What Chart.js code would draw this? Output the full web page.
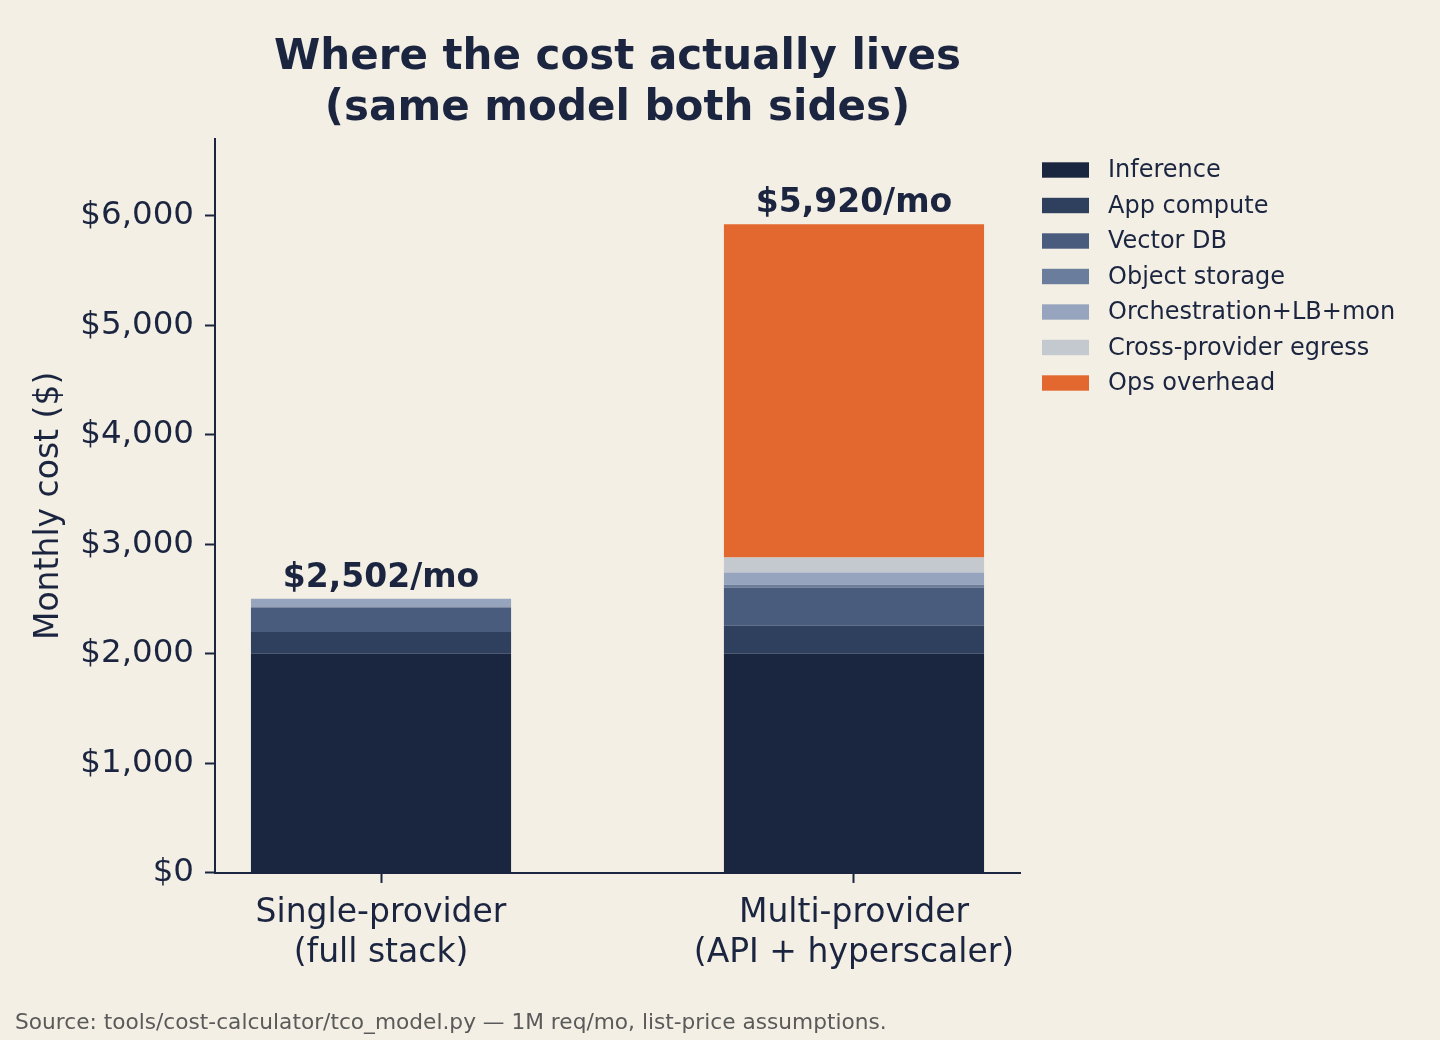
<!DOCTYPE html>
<html>
<head>
<meta charset="utf-8">
<script src="https://cdn.jsdelivr.net/npm/chart.js@4"></script>
<style>
  html, body { margin: 0; padding: 0; background: #f3efe4; }
  #wrap { width: 1440px; height: 1040px; }
</style>
</head>
<body>
<div id="wrap"><canvas id="c" width="1440" height="1040"></canvas></div>
<script>
// ---- data ----
const categories = [["Single-provider", "(full stack)"], ["Multi-provider", "(API + hyperscaler)"]];
const seriesNames = ["Inference", "App compute", "Vector DB", "Object storage", "Orchestration+LB+mon", "Cross-provider egress", "Ops overhead"];
const inference = [2000, 2000];
const appCompute = [200, 255];
const vectorDB = [220, 350];
const objectStorage = [12, 25];
const orchestration = [70, 112];
const egress = [0, 137];
const opsOverhead = [0, 3041];
const yTicks = [0, 1000, 2000, 3000, 4000, 5000, 6000];
const seriesColors = ["#1a2540", "#2f3f5e", "#4a5c7d", "#6b7d9d", "#97a4bd", "#c4c9d0", "#e2682f"];

const seriesValues = [inference, appCompute, vectorDB, objectStorage, orchestration, egress, opsOverhead];
const NAVY = "#1b2540";
const FONT = "'DejaVu Sans', sans-serif";

const datasets = seriesNames.map((name, i) => ({
  label: name,
  data: seriesValues[i].map((v, j) => ({ x: j, y: v })),
  backgroundColor: seriesColors[i],
  borderWidth: 0,
  barPercentage: 0.55,
  categoryPercentage: 1.0
}));

const totalsPlugin = {
  id: 'totals',
  afterDatasetsDraw(chart) {
    const ctx = chart.ctx;
    const xs = chart.scales.x, ys = chart.scales.y;
    ctx.save();
    ctx.font = "bold 33px " + FONT;
    ctx.fillStyle = NAVY;
    ctx.textAlign = 'center';
    ctx.textBaseline = 'alphabetic';
    categories.forEach((c, j) => {
      const total = seriesValues.reduce((s, arr) => s + arr[j], 0);
      const x = xs.getPixelForValue(j);
      const y = ys.getPixelForValue(total);
      ctx.fillText('$' + total.toLocaleString('en-US') + '/mo', x, y - 12);
    });
    ctx.restore();
  }
};

const legendPlugin = {
  id: 'sideLegend',
  afterDraw(chart) {
    const ctx = chart.ctx;
    const area = chart.chartArea;
    const x0 = area.right + 22;
    const y0 = 170;
    const step = 35.5;
    ctx.save();
    ctx.font = "24px " + FONT;
    ctx.textAlign = 'left';
    ctx.textBaseline = 'middle';
    chart.data.datasets.forEach((ds, i) => {
      const cy = y0 + i * step;
      ctx.fillStyle = ds.backgroundColor;
      ctx.fillRect(x0, cy - 7.7, 47, 15.4);
      ctx.fillStyle = NAVY;
      ctx.fillText(ds.label, x0 + 66, cy + 1);
    });
    ctx.restore();
  }
};

new Chart(document.getElementById('c'), {
  type: 'bar',
  data: { datasets },
  plugins: [totalsPlugin, legendPlugin],
  options: {
    responsive: false,
    animation: false,
    devicePixelRatio: 1,
    layout: { padding: { left: 15, right: 420, top: 0, bottom: 0 } },
    plugins: {
      legend: { display: false },
      tooltip: { enabled: false },
      title: {
        display: true,
        fullSize: false,
        text: ["Where the cost actually lives", "(same model both sides)"],
        font: { size: 42, weight: 'bold', family: FONT },
        color: NAVY,
        padding: { top: 33, bottom: 5 }
      },
      subtitle: {
        display: true,
        position: 'bottom',
        align: 'start',
        text: "Source: tools/cost-calculator/tco_model.py \u2014 1M req/mo, list-price assumptions.",
        font: { size: 21.7, family: FONT },
        color: '#5a5a5a',
        padding: { top: 0, bottom: 4 }
      }
    },
    scales: {
      x: {
        type: 'linear',
        stacked: true,
        offset: false,
        min: -0.351,
        max: 1.351,
        afterBuildTicks(scale) { scale.ticks = categories.map((c, j) => ({ value: j })); },
        afterFit(scale) { scale.height = 137; },
        ticks: {
          callback: (v) => categories[v],
          font: { size: 33, family: FONT },
          color: NAVY,
          padding: 11,
          maxRotation: 0,
          autoSkip: false
        },
        grid: { display: true, offset: false, drawOnChartArea: false, drawTicks: true, tickLength: 10, tickWidth: 2, tickColor: NAVY, color: NAVY },
        border: { display: true, color: NAVY, width: 2 }
      },
      y: {
        stacked: true,
        min: 0,
        max: 6700,
        afterBuildTicks(scale) { scale.ticks = yTicks.map(v => ({ value: v })); },
        afterFit(scale) { scale.width = 200; },
        ticks: {
          callback: (v) => '$' + Number(v).toLocaleString('en-US'),
          font: { size: 32.5, family: FONT },
          color: NAVY,
          padding: 11
        },
        title: {
          display: true,
          text: "Monthly cost ($)",
          font: { size: 33, family: FONT },
          color: NAVY,
          padding: { top: 15, bottom: 0 }
        },
        grid: { display: true, drawOnChartArea: false, drawTicks: true, tickLength: 10, tickWidth: 2, tickColor: NAVY, color: NAVY },
        border: { display: true, color: NAVY, width: 2 }
      }
    }
  }
});
</script>
</body>
</html>
